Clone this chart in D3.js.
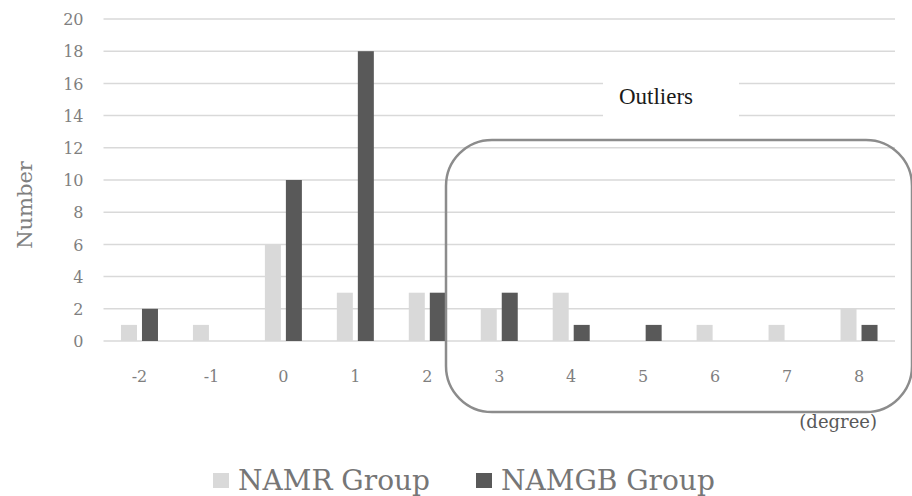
<!DOCTYPE html>
<html>
<head>
<meta charset="utf-8">
<script src="https://cdn.jsdelivr.net/npm/d3@7"></script>
<style>
  body { margin: 0; background: #fff; }
  svg { display: block; }
  .tick text { font-family: "DejaVu Serif", serif; fill: #7f7f7f; }
</style>
</head>
<body>
<svg id="chart"></svg>
<script>
// chart values
const categories = ['-2', '-1', '0', '1', '2', '3', '4', '5', '6', '7', '8'];
const seriesNames = ['NAMR Group', 'NAMGB Group'];
const namrValues = [1, 1, 6, 3, 3, 2, 3, 0, 1, 1, 2];
const namgbValues = [2, 0, 10, 18, 3, 3, 1, 1, 0, 0, 1];
const yTicks = [0, 2, 4, 6, 8, 10, 12, 14, 16, 18, 20];
const seriesColors = ['#d9d9d9', '#595959'];

const config = {
    width: 912,
    height: 496,
    margin: {top: 19, right: 17, bottom: 155, left: 103.5}
};

const svg = d3.select('#chart')
    .attr('width', config.width)
    .attr('height', config.height);

const innerW = config.width - config.margin.left - config.margin.right;
const innerH = config.height - config.margin.top - config.margin.bottom;

const chart = svg.append('g')
    .attr('transform', `translate(${config.margin.left},${config.margin.top})`);

const xScale = d3.scaleBand().domain(categories).range([0, innerW]);
const yScale = d3.scaleLinear().domain([0, 20]).range([innerH, 0]);
const barW = 16, barGap = 5;

// gridlines
chart.append('g')
    .selectAll('line')
    .data(yTicks)
    .join('line')
    .attr('x1', 0)
    .attr('x2', innerW)
    .attr('y1', d => yScale(d))
    .attr('y2', d => yScale(d))
    .attr('stroke', '#d9d9d9')
    .attr('stroke-width', 1.5);

// y axis labels
const yAxisG = chart.append('g')
    .call(d3.axisLeft(yScale).tickValues(yTicks).tickSize(0).tickPadding(20));
yAxisG.select('.domain').remove();
yAxisG.selectAll('text').attr('font-size', 16).attr('dy', '0.35em');

// x axis labels
const xAxisG = chart.append('g')
    .attr('transform', `translate(0,${innerH})`)
    .call(d3.axisBottom(xScale).tickSize(0).tickPadding(27));
xAxisG.select('.domain').remove();
xAxisG.selectAll('text').attr('font-size', 16).attr('dy', '0.35em').attr('y', 35);

// bars
const rows = categories.map((c, i) => ({cat: c, vals: [namrValues[i], namgbValues[i]]}));
const groups = chart.append('g')
    .selectAll('g')
    .data(rows)
    .join('g')
    .attr('transform', d => `translate(${xScale(d.cat) + xScale.bandwidth() / 2},0)`);

groups.selectAll('rect')
    .data(d => d.vals.map((v, k) => ({v, k})))
    .join('rect')
    .attr('x', d => d.k === 0 ? -barGap / 2 - barW : barGap / 2)
    .attr('width', barW)
    .attr('y', d => yScale(d.v))
    .attr('height', d => innerH - yScale(d.v))
    .attr('fill', d => seriesColors[d.k]);

// y axis title
svg.append('text')
    .attr('transform', 'translate(32,205) rotate(-90)')
    .attr('text-anchor', 'middle')
    .attr('font-family', 'DejaVu Serif, serif')
    .attr('font-size', 21)
    .attr('fill', '#7f7f7f')
    .text('Number');

// outliers callout
svg.append('rect')
    .attr('x', 446)
    .attr('y', 140)
    .attr('width', 466)
    .attr('height', 272)
    .attr('rx', 46)
    .attr('ry', 46)
    .attr('fill', 'none')
    .attr('stroke', '#8c8c8c')
    .attr('stroke-width', 2.5);

svg.append('rect')
    .attr('x', 603)
    .attr('y', 68)
    .attr('width', 136)
    .attr('height', 60)
    .attr('fill', '#fff');

svg.append('text')
    .attr('x', 656)
    .attr('y', 104)
    .attr('text-anchor', 'middle')
    .attr('font-family', 'Liberation Serif, serif')
    .attr('font-size', 23)
    .attr('fill', '#1a1a1a')
    .text('Outliers');

svg.append('text')
    .attr('x', 877)
    .attr('y', 428)
    .attr('text-anchor', 'end')
    .attr('font-family', 'DejaVu Serif, serif')
    .attr('font-size', 18)
    .attr('fill', '#595959')
    .text('(degree)');

// legend
const legendX = [213, 476];
const legend = svg.append('g')
    .selectAll('g')
    .data(seriesNames)
    .join('g')
    .attr('transform', (d, i) => `translate(${legendX[i]},473)`);

legend.append('rect')
    .attr('width', 16)
    .attr('height', 15)
    .attr('fill', (d, i) => seriesColors[i]);

legend.append('text')
    .attr('x', 25)
    .attr('y', 17)
    .attr('font-family', 'DejaVu Serif, serif')
    .attr('font-size', 28)
    .attr('fill', '#767676')
    .text(d => d);
</script>
</body>
</html>
